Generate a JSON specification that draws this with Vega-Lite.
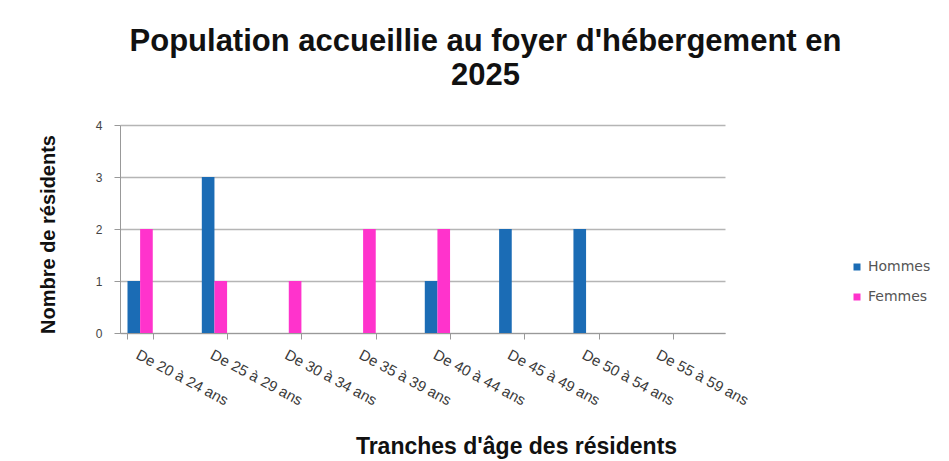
{
  "$schema": "https://vega.github.io/schema/vega-lite/v6.json",
  "autosize": "none",
  "width": 605,
  "height": 208,
  "padding": {"left": 120, "top": 125, "right": 224, "bottom": 128},
  "background": "white",
  "title": {
    "text": ["Population accueillie au foyer d'hébergement en", "2025"],
    "font": "Liberation Sans",
    "fontSize": 31,
    "fontWeight": "bold",
    "color": "#111111",
    "anchor": "middle",
    "dx": 63,
    "offset": 27,
    "lineHeight": 34
  },
  "data": {
    "values": [
      {"tranche": "De 20 à 24 ans", "sexe": "Hommes", "n": 1},
      {"tranche": "De 20 à 24 ans", "sexe": "Femmes", "n": 2},
      {"tranche": "De 25 à 29 ans", "sexe": "Hommes", "n": 3},
      {"tranche": "De 25 à 29 ans", "sexe": "Femmes", "n": 1},
      {"tranche": "De 30 à 34 ans", "sexe": "Hommes", "n": 0},
      {"tranche": "De 30 à 34 ans", "sexe": "Femmes", "n": 1},
      {"tranche": "De 35 à 39 ans", "sexe": "Hommes", "n": 0},
      {"tranche": "De 35 à 39 ans", "sexe": "Femmes", "n": 2},
      {"tranche": "De 40 à 44 ans", "sexe": "Hommes", "n": 1},
      {"tranche": "De 40 à 44 ans", "sexe": "Femmes", "n": 2},
      {"tranche": "De 45 à 49 ans", "sexe": "Hommes", "n": 2},
      {"tranche": "De 45 à 49 ans", "sexe": "Femmes", "n": 0},
      {"tranche": "De 50 à 54 ans", "sexe": "Hommes", "n": 2},
      {"tranche": "De 50 à 54 ans", "sexe": "Femmes", "n": 0},
      {"tranche": "De 55 à 59 ans", "sexe": "Hommes", "n": 0},
      {"tranche": "De 55 à 59 ans", "sexe": "Femmes", "n": 0}
    ]
  },
  "mark": {"type": "bar"},
  "encoding": {
    "x": {
      "field": "tranche",
      "type": "nominal",
      "sort": null,
      "scale": {"paddingInner": 0.66, "paddingOuter": 0.4, "align": 0.126},
      "axis": {
        "title": "Tranches d'âge des résidents",
        "titleFont": "Liberation Sans",
        "titleFontSize": 23,
        "titleFontWeight": "bold",
        "titleColor": "#111111",
        "titleX": 396,
        "titleY": 120,
        "titleAlign": "center",
        "titleBaseline": "alphabetic",
        "labelAngle": 28,
        "labelAlign": "left",
        "labelBaseline": "top",
        "labelFont": "Liberation Sans",
        "labelFontSize": 15,
        "labelColor": "#3a3a3a",
        "labelPadding": 8,
        "domainColor": "#999999",
        "tickColor": "#999999",
        "ticks": true,
        "tickBand": "extent",
        "tickSize": 6
      }
    },
    "xOffset": {"field": "sexe", "sort": ["Hommes", "Femmes"]},
    "y": {
      "field": "n",
      "type": "quantitative",
      "scale": {"domain": [0, 4]},
      "axis": {
        "values": [0, 1, 2, 3, 4],
        "title": "Nombre de résidents",
        "titleFont": "Liberation Sans",
        "titleFontSize": 20,
        "titleFontWeight": "bold",
        "titleColor": "#111111",
        "titleX": -72,
        "titleY": 109,
        "titleAngle": -90,
        "titleAlign": "center",
        "titleBaseline": "middle",
        "labelFont": "Liberation Sans",
        "labelFontSize": 12,
        "labelColor": "#444444",
        "labelPadding": 12,
        "domainColor": "#999999",
        "tickColor": "#999999",
        "tickSize": 6,
        "gridColor": "#b5b5b5",
        "gridWidth": 1.5
      }
    },
    "color": {
      "field": "sexe",
      "type": "nominal",
      "sort": ["Hommes", "Femmes"],
      "scale": {"domain": ["Hommes", "Femmes"], "range": ["#1b6cb5", "#ff33cc"]},
      "legend": {
        "title": null,
        "orient": "none",
        "legendX": 730,
        "legendY": 135,
        "symbolType": "square",
        "symbolSize": 49,
        "labelFont": "DejaVu Sans",
        "labelFontSize": 14,
        "labelColor": "#555555",
        "rowPadding": 16
      }
    }
  },
  "config": {"view": {"stroke": null}}
}
